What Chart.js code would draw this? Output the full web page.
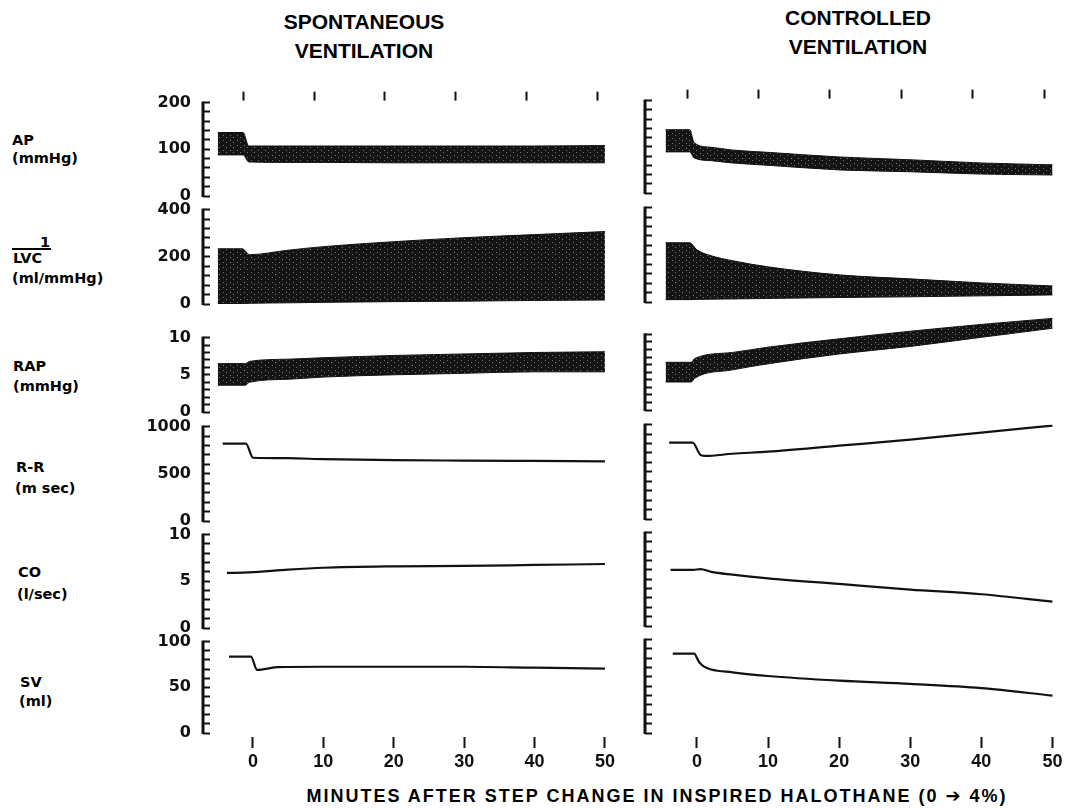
<!DOCTYPE html>
<html>
<head>
<meta charset="utf-8">
<script src="https://cdn.jsdelivr.net/npm/chart.js@4.4.1/dist/chart.umd.min.js"></script>
<style>
  body { margin: 0; background: #fff; width: 1065px; height: 808px; overflow: hidden; position: relative; }
  canvas { position: absolute; }
  .t { position: absolute; font-weight: bold; color: #000; white-space: nowrap; }
  .title { font-family: "Liberation Sans", Arial, sans-serif; font-size: 21px; line-height: 29px; text-align: center; width: 300px; }
  .row { font-family: "DejaVu Sans", sans-serif; font-size: 14.5px; line-height: 16px; }
  .bar { position: absolute; border-top: 2px solid #000; }
  .xtitle { font-family: "Liberation Sans", Arial, sans-serif; font-size: 18px; line-height: 20px; letter-spacing: 2px; width: 800px; text-align: center; }
  .arrow { font-family: "DejaVu Sans", sans-serif; }
</style>
</head>
<body>
<div class="t title" style="left:214px;top:7px">SPONTANEOUS<br>VENTILATION</div>
<div class="t title" style="left:708px;top:3px">CONTROLLED<br>VENTILATION</div>

<div class="t row" style="left:12px;top:132px">AP</div>
<div class="t row" style="left:12px;top:150px">(mmHg)</div>
<div class="t row" style="left:40px;top:234px">1</div>
<div class="bar" style="left:12px;top:248px;width:39px"></div>
<div class="t row" style="left:13px;top:250px">LVC</div>
<div class="t row" style="left:12px;top:270px">(ml/mmHg)</div>
<div class="t row" style="left:13px;top:358px">RAP</div>
<div class="t row" style="left:13px;top:378px">(mmHg)</div>
<div class="t row" style="left:16px;top:459px">R-R</div>
<div class="t row" style="left:15px;top:480px">(m sec)</div>
<div class="t row" style="left:18px;top:564px">CO</div>
<div class="t row" style="left:17px;top:586px">(l/sec)</div>
<div class="t row" style="left:20px;top:674px">SV</div>
<div class="t row" style="left:19px;top:693px">(ml)</div>

<div class="t xtitle" style="left:257px;top:786px">MINUTES AFTER STEP CHANGE IN INSPIRED HALOTHANE (0 <span class="arrow">➔</span> 4%)</div>

<script>
// x ticks
const bottomTicks = [0, 10, 20, 30, 40, 50];
const topTicks = [-1.3, 8.7, 18.7, 28.8, 38.8, 48.9];

// y axes, one entry per row: AP, 1/LVC, RAP, R-R, CO, SV
const axisMax = [200, 400, 10, 1000, 10, 100];
const axisStep = [20, 40, 1, 100, 1, 10];
const axisLabels = [[0, 100, 200], [0, 200, 400], [0, 5, 10], [0, 500, 1000], [0, 5, 10], [0, 50, 100]];

// spontaneous ventilation
const spAP_t  = [-5, -1.4, -0.6, 5, 10, 20, 30, 40, 50];
const spAP_hi = [136, 136, 107, 107, 107, 107, 107, 107, 108];
const spAP_lo = [88, 88, 73, 72, 72, 71, 71, 71, 71];

const spLVC_t  = [-5, -1.5, -0.5, 5, 10, 20, 30, 40, 50];
const spLVC_hi = [234, 234, 209, 228, 243, 264, 281, 294, 307];
const spLVC_lo = [2, 2, 3, 5, 7, 10, 12, 15, 17];

const spRAP_t  = [-5, -1.1, -0.5, 5, 10, 20, 30, 40, 50];
const spRAP_hi = [6.5, 6.5, 6.8, 7.1, 7.3, 7.6, 7.8, 8.0, 8.1];
const spRAP_lo = [3.6, 3.6, 4.0, 4.4, 4.7, 5.0, 5.2, 5.4, 5.4];

const spRR_t = [-4.3, -1, 0, 5, 10, 20, 30, 40, 50];
const spRR   = [819, 819, 670, 665, 655, 645, 640, 636, 632];

const spCO_t = [-3.7, -0.6, 5, 10, 20, 30, 40, 50];
const spCO   = [5.9, 5.95, 6.25, 6.45, 6.6, 6.65, 6.75, 6.85];

const spSV_t = [-3.4, -0.3, 0.6, 3.4, 10, 20, 30, 40, 50];
const spSV   = [83.5, 83.5, 69, 72, 72.5, 72.5, 72.5, 71.5, 70.5];

// controlled ventilation
const cvAP_t  = [-4.4, -1.0, -0.4, 2, 5, 10, 20, 30, 40, 50];
const cvAP_hi = [137, 137, 109, 99, 93, 88, 78, 72, 65, 61];
const cvAP_lo = [89, 89, 76, 70, 65, 60, 50, 46, 41, 39];

const cvLVC_t  = [-4.4, -1.0, 0, 2, 5, 10, 20, 30, 40, 50];
const cvLVC_hi = [251, 251, 221, 196, 175, 149, 115, 98, 81, 68];
const cvLVC_lo = [10, 10, 11, 12, 13, 15, 19, 22, 26, 30];

const cvRAP_t  = [-4.4, -0.8, -0.3, 5, 10, 20, 30, 40, 50];
const cvRAP_hi = [6.3, 6.3, 6.8, 7.6, 8.3, 9.4, 10.4, 11.3, 12.1];
const cvRAP_lo = [3.7, 3.7, 4.2, 5.3, 6.1, 7.4, 8.4, 9.6, 10.8];

const cvRR_t = [-3.9, -0.6, 0.5, 1.2, 5, 10, 20, 30, 40, 50];
const cvRR   = [809, 809, 680, 668, 691, 713, 777, 840, 915, 989];

const cvCO_t = [-3.7, -0.5, 0.5, 2, 5, 10, 20, 30, 40, 50];
const cvCO   = [6.0, 6.0, 6.1, 5.8, 5.5, 5.1, 4.5, 3.9, 3.4, 2.6];

const cvSV_t = [-3.4, -0.4, 0.3, 1, 2, 5, 10, 20, 30, 40, 50];
const cvSV   = [85, 85, 76, 71, 68, 65, 61, 56, 52.5, 48, 40];

// layout (pixels); only the left column carries y numbers
const colLayout = {
  sp: { axisX: 203, right: 619, xMin: -7.1, xMax: 52, yNumbers: true },
  cv: { axisX: 645, right: 1061, xMin: -7.3, xMax: 51.2, yNumbers: false },
};
const rowLayout = {
  sp: [[103, 196], [210, 304], [338, 412], [427, 521], [535, 628], [642, 733]],
  cv: [[101, 193], [208, 302], [334, 410], [425, 519], [533, 626], [640, 733]],
};

const INK = "#111";
const YW = 80;

const pc = document.createElement("canvas");
pc.width = 7; pc.height = 5;
const pctx = pc.getContext("2d");
pctx.fillStyle = "#141414";
pctx.fillRect(0, 0, 7, 5);
pctx.fillStyle = "#777";
pctx.fillRect(2, 1, 1, 1);
pctx.fillRect(5, 3, 1, 1);
const bandFill = pctx.createPattern(pc, "repeat");

// y axis line only from 0 up to the labelled top
const axisLine = {
  id: "axisLine",
  afterDraw(chart, args, opts) {
    const y = chart.scales.y;
    const ctx = chart.ctx;
    ctx.save();
    ctx.strokeStyle = INK;
    ctx.lineWidth = 3;
    ctx.beginPath();
    ctx.moveTo(y.right, y.getPixelForValue(opts.top) - 1);
    ctx.lineTo(y.right, y.getPixelForValue(0) + 1);
    ctx.stroke();
    ctx.restore();
  },
};

const pts = (t, v) => t.map((x, i) => ({ x, y: v[i] }));

function makePanel(col, row, kind, series, scaleMax) {
  const canvas = document.createElement("canvas");
  canvas.width = 600;
  canvas.height = 200;
  document.body.appendChild(canvas);

  const L = colLayout[col];
  const [yTop, yBot] = rowLayout[col][row];
  const max = axisMax[row];
  const sMax = scaleMax || max;
  const areaTop = yBot - sMax * (yBot - yTop) / max;

  let datasets;
  if (kind === "band") {
    datasets = [
      { data: pts(series[0], series[1]), borderColor: INK, borderWidth: 1, fill: false },
      { data: pts(series[0], series[2]), borderColor: INK, borderWidth: 1, fill: "-1", backgroundColor: bandFill },
    ];
  } else {
    datasets = [{ data: pts(series[0], series[1]), borderColor: INK, borderWidth: 2.2, fill: false }];
  }
  datasets.forEach((d) => {
    d.pointRadius = 0;
    d.cubicInterpolationMode = "monotone";
  });

  const scales = {
    x: {
      type: "linear",
      min: L.xMin,
      max: L.xMax,
      display: row === 5,
      border: { display: false },
      grid: { drawOnChartArea: false, color: INK, tickLength: 16, tickWidth: 2, tickBorderDash: [0, 4, 11, 40] },
      ticks: {
        color: INK,
        font: { family: '"Liberation Sans", Arial, sans-serif', weight: "bold", size: 18 },
        padding: 2,
        autoSkip: false,
        maxRotation: 0,
      },
      afterBuildTicks: (s) => { s.ticks = bottomTicks.map((v) => ({ value: v })); },
      afterFit: (s) => { s.height = 42; },
    },
    y: {
      type: "linear",
      min: 0,
      max: sMax,
      border: { display: false },
      grid: { drawOnChartArea: false, color: INK, tickLength: -7, tickWidth: 2 },
      ticks: {
        color: INK,
        font: { family: '"DejaVu Sans", sans-serif', weight: "bold", size: 16 },
        padding: 19,
        autoSkip: false,
        callback: (v) => (L.yNumbers && axisLabels[row].includes(v) ? String(v) : ""),
      },
      afterBuildTicks: (s) => {
        const ticks = [];
        for (let v = 0; v <= max; v += axisStep[row]) ticks.push({ value: v });
        s.ticks = ticks;
      },
      afterFit: (s) => { s.width = YW; },
    },
  };

  if (row === 0) {
    scales.xt = {
      type: "linear",
      position: "top",
      axis: "x",
      min: L.xMin,
      max: L.xMax,
      border: { display: false },
      grid: { drawOnChartArea: false, color: INK, tickLength: 11, tickWidth: 2, tickBorderDash: [9, 20] },
      ticks: { display: false },
      afterBuildTicks: (s) => { s.ticks = topTicks.map((v) => ({ value: v })); },
      afterFit: (s) => { s.height = 12; },
    };
  }

  const chart = new Chart(canvas.getContext("2d"), {
    type: "line",
    data: { datasets },
    options: {
      responsive: false,
      maintainAspectRatio: false,
      animation: false,
      events: [],
      layout: { padding: { top: 2, right: 4, bottom: 2, left: 0 } },
      plugins: { legend: { display: false }, tooltip: { enabled: false }, axisLine: { top: max } },
      scales,
    },
    plugins: [axisLine],
  });

  // size the canvas so the plot area lands on the panel's place
  const a = chart.chartArea;
  const insL = a.left, insT = a.top, insR = chart.width - a.right, insB = chart.height - a.bottom;
  chart.resize(Math.round(insL + (L.right - L.axisX) + insR), Math.round(insT + (yBot - areaTop) + insB));
  const b = chart.chartArea;
  canvas.style.left = (L.axisX - b.left) + "px";
  canvas.style.top = (areaTop - b.top) + "px";
}

makePanel("sp", 0, "band", [spAP_t, spAP_lo, spAP_hi]);
makePanel("sp", 1, "band", [spLVC_t, spLVC_lo, spLVC_hi]);
makePanel("sp", 2, "band", [spRAP_t, spRAP_lo, spRAP_hi]);
makePanel("sp", 3, "line", [spRR_t, spRR]);
makePanel("sp", 4, "line", [spCO_t, spCO]);
makePanel("sp", 5, "line", [spSV_t, spSV]);

makePanel("cv", 0, "band", [cvAP_t, cvAP_lo, cvAP_hi]);
makePanel("cv", 1, "band", [cvLVC_t, cvLVC_lo, cvLVC_hi]);
makePanel("cv", 2, "band", [cvRAP_t, cvRAP_lo, cvRAP_hi], 12.6);
makePanel("cv", 3, "line", [cvRR_t, cvRR]);
makePanel("cv", 4, "line", [cvCO_t, cvCO]);
makePanel("cv", 5, "line", [cvSV_t, cvSV]);
</script>
</body>
</html>
